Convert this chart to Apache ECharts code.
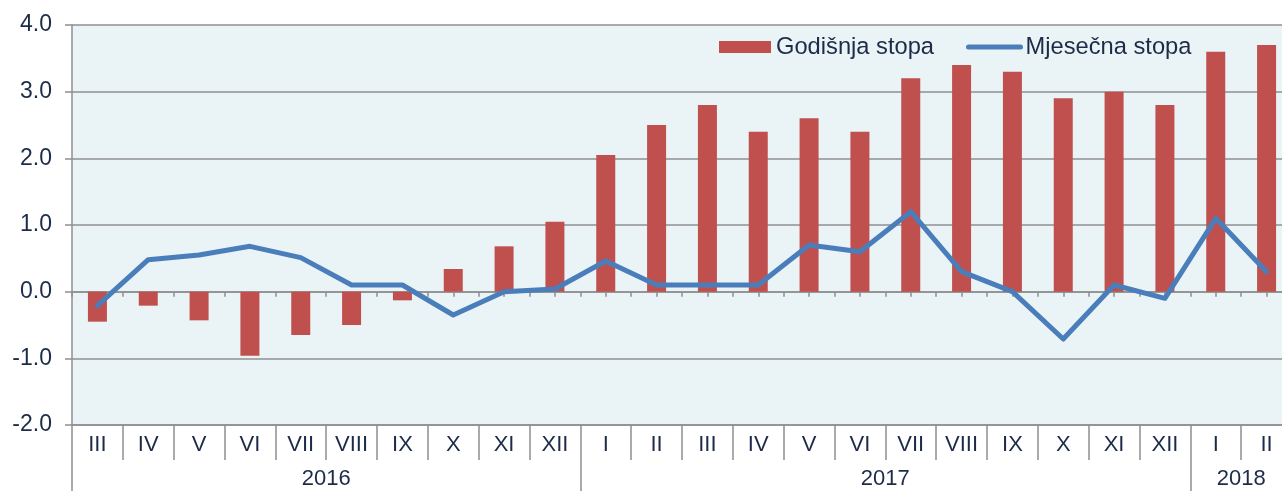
<!DOCTYPE html>
<html>
<head>
<meta charset="utf-8">
<script src="https://cdn.jsdelivr.net/npm/echarts@6/dist/echarts.min.js"></script>
<style>
html,body{margin:0;padding:0;background:#fff;}
#c{width:1282px;height:491px;}
</style>
</head>
<body>
<div id="c"></div>
<script>
const months = ['III','IV','V','VI','VII','VIII','IX','X','XI','XII','I','II','III','IV','V','VI','VII','VIII','IX','X','XI','XII','I','II'];
const years = ['2016','2017','2018'];
const yearCenters = [5, 16, 23];
const yearBounds = [0, 10, 22, 24];
const godisnja = [-0.45,-0.21,-0.43,-0.96,-0.65,-0.5,-0.13,0.34,0.68,1.05,2.05,2.5,2.8,2.4,2.6,2.4,3.2,3.4,3.3,2.9,3.0,2.8,3.6,3.7];
const mjesecna = [-0.21,0.48,0.55,0.68,0.51,0.1,0.1,-0.35,0.0,0.04,0.46,0.1,0.1,0.1,0.7,0.6,1.2,0.3,0.0,-0.71,0.1,-0.1,1.1,0.3];
const yTicks = {min:-2, max:4, interval:1};

const gridColor = '#8f8f8f';
const textColor = '#1c2b47';
const font = 'Liberation Sans, Arial, sans-serif';
const halfCats = [];
for (let i = 0; i < months.length * 2; i++) halfCats.push('');

const chart = echarts.init(document.getElementById('c'));
chart.setOption({
  animation: false,
  textStyle: {fontFamily: font},
  grid: {left: 72, width: 1220, top: 25, height: 400, show: true, backgroundColor: '#eaf3f6', borderWidth: 0,
         containLabel: false, outerBoundsMode: 'none'},
  legend: {
    left: 719, top: 35, padding: 0, itemWidth: 52, itemHeight: 12, itemGap: 32,
    textStyle: {fontSize: 23.7, color: textColor, fontFamily: font},
    data: [
      {name: 'Godišnja stopa', icon: 'rect'},
      {name: 'Mjesečna stopa', itemStyle: {color: 'transparent', borderColor: 'transparent', borderWidth: 0, opacity: 0},
       lineStyle: {color: '#4a7ebb', width: 5, cap: 'round'}}
    ]
  },
  xAxis: [
    {
      type: 'category', data: months, position: 'bottom',
      axisLine: {onZero: false, lineStyle: {color: gridColor, width: 1.5}},
      axisTick: {show: true, interval: 0, length: 35, lineStyle: {color: gridColor, width: 1.5}},
      axisLabel: {interval: 0, fontSize: 22, color: textColor, margin: 9, fontFamily: font},
      splitLine: {show: false}
    },
    {
      type: 'value', min: 0, max: 24, position: 'bottom',
      axisLine: {show: false, onZero: false},
      axisTick: {show: true, customValues: yearBounds, length: 66, lineStyle: {color: gridColor, width: 1.5}},
      axisLabel: {show: true, customValues: yearCenters, margin: 43, fontSize: 22, color: textColor, fontFamily: font,
        formatter: function (v) { const i = yearCenters.indexOf(v); return i >= 0 ? years[i] : ''; }},
      splitLine: {show: false}
    },
    {
      type: 'category', data: halfCats, position: 'bottom',
      axisLine: {onZero: true, lineStyle: {color: gridColor, width: 1.5}},
      axisTick: {show: true, interval: 0, length: 5, lineStyle: {color: gridColor, width: 1.5}},
      axisLabel: {show: false},
      splitLine: {show: false}
    }
  ],
  yAxis: {
    type: 'value', min: yTicks.min, max: yTicks.max, interval: yTicks.interval,
    axisLine: {show: true, onZero: false, lineStyle: {color: gridColor, width: 1.5}},
    axisTick: {show: true, length: 7, lineStyle: {color: gridColor, width: 1.5}},
    axisLabel: {fontSize: 23, color: textColor, margin: 20, fontFamily: font, formatter: v => v.toFixed(1)},
    splitLine: {show: true, lineStyle: {color: gridColor, width: 1.5}}
  },
  series: [
    {
      name: 'Godišnja stopa', type: 'bar', data: godisnja, xAxisIndex: 0,
      barWidth: 19, itemStyle: {color: '#c0504d'}, z: 2
    },
    {
      name: 'Mjesečna stopa', type: 'line', data: mjesecna, xAxisIndex: 0,
      showSymbol: false, symbol: 'none', lineStyle: {color: '#4a7ebb', width: 5, cap: 'round', join: 'round'},
      itemStyle: {color: '#4a7ebb'}, z: 3
    }
  ]
});
</script>
</body>
</html>
